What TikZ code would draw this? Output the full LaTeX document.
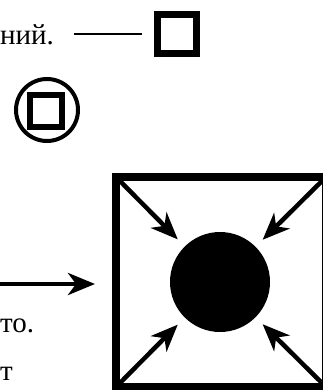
\documentclass[tikz,border=0pt]{standalone}
\usepackage{fontspec}
\setmainfont{Liberation Serif}
\usepackage{tikz}
\usetikzlibrary{arrows.meta, positioning, calc}
\tikzset{
  txt/.style={anchor=base west, inner sep=0pt, font=\fontsize{29}{32}\selectfont},
  boxthick/.style={draw, minimum size=39pt, inner sep=0pt, line width=7pt},
  ringbox/.style={draw, minimum size=32pt, inner sep=0pt, line width=6pt},
  ring/.style={draw, circle, minimum size=62pt, inner sep=0pt, line width=4pt},
  framebox/.style={draw, minimum size=210pt, inner sep=0pt, outer sep=0pt, line width=8pt},
  blob/.style={fill, circle, minimum size=100pt, inner sep=0pt, outer sep=0pt},
  thinline/.style={line width=2pt},
  parrow/.style={-{Stealth[length=27pt, width=22pt, inset=8pt]}, line width=4.5pt},
}
\begin{document}
\begin{tikzpicture}[x=1pt, y=-1pt]
  \useasboundingbox (0,0) rectangle (322,390);

  % upper row
  \node[txt] (t1) at (0,45) {ний.};
  \coordinate (dashstart) at (74,34.5);
  \node[boxthick] (sq) at (177,34.5) {};
  \draw[thinline, shorten >=12pt] (dashstart) -- (sq);

  % ringed square
  \node[ring] (rg) at (47,110) {};
  \node[ringbox] (rgsq) at (46,111.5) {};

  % big frame with centre blob
  \node[framebox] (frame) at (221,282) {};
  \node[blob] (bl) at (220,282) {};
  \foreach \c in {north west, north east, south west, south east}
    \draw[parrow, shorten >=10pt] (frame.\c) -- (bl);

  \coordinate (arrstart) at (0,284);
  \draw[parrow, shorten >=21pt] (arrstart) -- (arrstart -| frame.west);

  % lower text
  \node[txt] (t2) at (0,332) {то.};
  \node[txt] (t3) at (0,380) {т};

\end{tikzpicture}
\end{document}
